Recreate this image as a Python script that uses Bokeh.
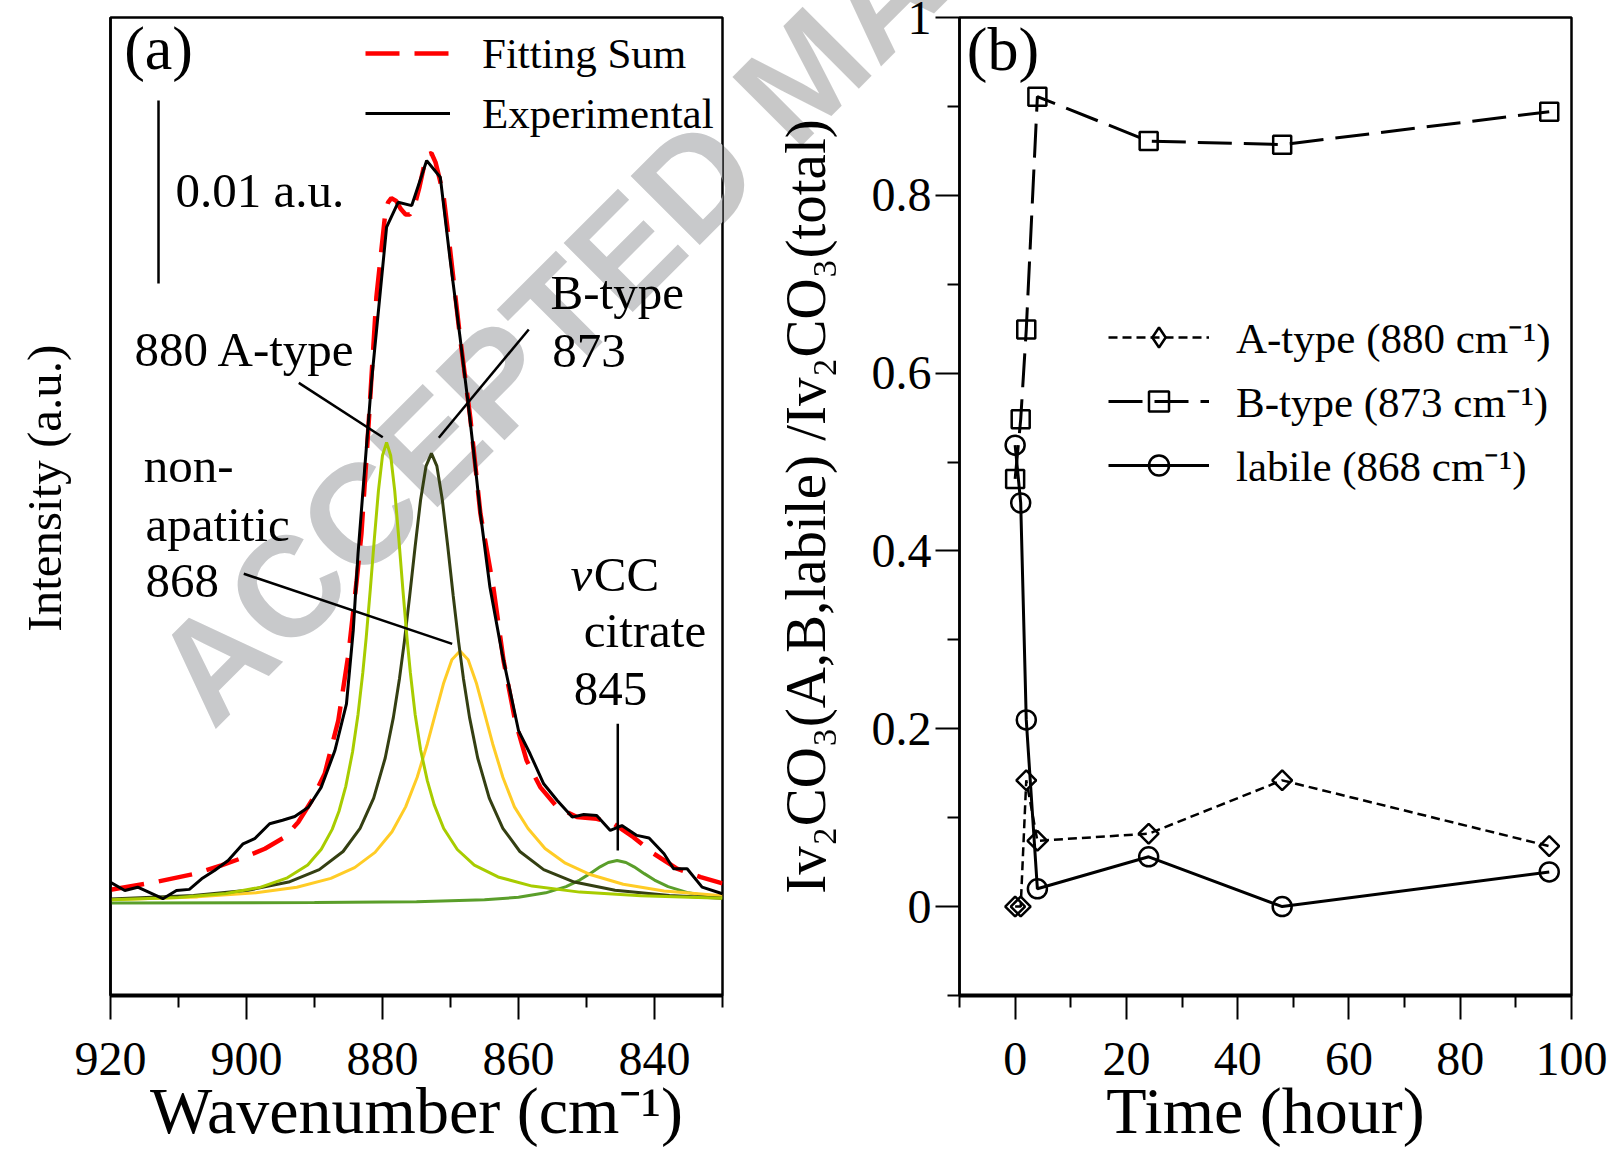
import numpy as np
from bokeh.plotting import figure
from bokeh.models import (Range1d, FixedTicker, Legend, LegendItem, Label, Div,
                          CustomJSTickFormatter)
from bokeh.layouts import row
from bokeh.embed import file_html
from bokeh.resources import INLINE
from bokeh.core.properties import value

FONT = "Liberation Serif"
SANS = "Liberation Sans"

# ---------------- Panel (a) data (intensity in 1e-3 a.u.) ----------------
exp_wn = [920.0, 917.9, 916.0, 912.3, 910.3, 908.4, 906.6, 904.7, 902.7, 900.5,
          898.8, 896.6, 894.7, 892.9, 890.9, 889.0, 887.0, 885.3, 884.3, 883.6,
          881.6, 879.4, 877.7, 875.7, 873.5, 871.5, 870.1, 868.6, 867.4, 866.4,
          865.6, 864.2, 862.4, 860.0, 858.3, 856.3, 854.3, 852.1, 850.4, 848.5,
          846.5, 844.8, 842.6, 840.8, 838.6, 837.2, 835.2, 833.0, 830.0]
exp_int = [1.16, 0.71, 0.89, 0.26, 0.71, 0.77, 1.35, 1.80, 2.35, 3.26,
           3.54, 4.36, 4.55, 4.75, 5.26, 6.36, 8.36, 10.91, 14.92, 19.11,
           28.58, 36.96, 38.32, 38.14, 40.60, 39.69, 35.32, 30.95, 27.31, 24.03,
           21.30, 17.28, 13.64, 9.45, 8.18, 6.54, 5.63, 4.72, 4.86, 4.81,
           3.99, 4.26, 3.72, 3.58, 2.72, 1.90, 1.90, 0.89, 0.53]

fit_wn = [920.0, 913.5, 907.6, 903.7, 900.3, 897.3, 894.4, 892.4, 890.4, 888.5,
          886.5, 885.0, 883.8, 883.1, 882.1, 880.9, 879.6, 879.2, 878.7, 878.0,
          877.3, 876.6, 876.0, 875.3, 874.6, 873.9, 873.3, 872.8, 872.2, 871.6,
          871.0, 870.1, 868.6, 867.1, 865.6, 863.7, 862.2, 860.5, 858.8, 856.8,
          854.3, 851.4, 848.5, 846.0, 843.1, 840.1, 836.7, 833.2, 830.0]
fit_int = [0.75, 1.16, 1.62, 2.08, 2.53, 2.99, 3.62, 4.44, 5.63, 7.09,
           10.0, 13.64, 17.65, 20.20, 25.85, 33.13, 37.69, 38.3, 38.55, 38.4,
           37.95, 37.65, 37.65, 38.1, 39.1, 40.3, 40.95, 41.0, 40.5, 39.6,
           38.6, 35.86, 30.95, 26.57, 21.30, 17.28, 13.28, 10.0, 7.81, 6.36,
           5.26, 4.72, 4.63, 4.36, 3.62, 2.72, 1.90, 1.44, 1.10]

a880_wn = [920.0, 910.0, 903.0, 898.0, 894.0, 891.0, 889.0, 887.4, 886.4, 885.4,
           884.4, 883.6, 882.9, 882.4, 881.8, 881.2, 880.6, 880.0, 879.4, 878.8,
           878.2, 877.6, 877.0, 876.4, 875.9, 875.2, 874.4, 873.4, 872.4, 871.0,
           869.0, 866.5, 863.0, 858.0, 851.0, 842.0, 830.0]
a880_int = [0.20, 0.33, 0.55, 0.88, 1.40, 2.10, 2.96, 4.05, 5.04, 6.40,
            8.29, 10.33, 12.6, 14.52, 17.14, 19.93, 22.55, 24.48, 25.2, 24.48,
            22.55, 19.93, 17.14, 14.52, 12.6, 10.33, 8.4, 6.7, 5.4, 4.1,
            2.95, 2.1, 1.45, 0.95, 0.62, 0.42, 0.28]

b873_wn = [920.0, 907.8, 899.8, 893.8, 889.3, 885.8, 883.3, 881.3, 879.6, 878.4,
           877.5, 876.8, 876.0, 875.2, 874.4, 873.6, 872.8, 872.0, 871.2, 870.4,
           869.6, 868.8, 868.1, 867.2, 866.0, 864.3, 862.3, 859.8, 856.3, 851.8,
           845.8, 837.8, 830.0]
b873_int = [0.24, 0.435, 0.72, 1.17, 1.85, 2.84, 4.11, 5.76, 7.95, 10.17,
            12.3, 14.27, 16.81, 19.51, 22.05, 23.9, 24.6, 23.9, 22.05, 19.51,
            16.81, 14.27, 12.3, 10.17, 7.95, 5.76, 4.11, 2.84, 1.85, 1.17,
            0.72, 0.435, 0.29]

n868_wn = [920.0, 907.2, 898.6, 892.6, 887.6, 884.1, 881.1, 878.6, 876.6, 874.9,
           873.4, 872.2, 871.0, 869.8, 868.6, 867.4, 866.2, 865.0, 863.8, 862.3,
           860.6, 858.6, 856.1, 853.1, 849.6, 844.6, 838.6, 830.0]
n868_int = [0.20, 0.36, 0.58, 0.89, 1.37, 1.96, 2.79, 3.92, 5.28, 6.9,
            8.73, 10.40, 12.05, 13.32, 13.8, 13.32, 12.05, 10.40, 8.73, 6.9,
            5.28, 4.1, 3.0, 2.2, 1.6, 1.05, 0.68, 0.42]

c845_wn = [920.0, 890.0, 875.0, 865.0, 860.0, 856.0, 853.0, 851.0, 849.5, 848.0,
           846.8, 845.5, 844.2, 843.0, 841.5, 840.0, 838.0, 835.0, 832.0, 830.0]
c845_int = [0.02, 0.05, 0.10, 0.20, 0.34, 0.58, 0.92, 1.28, 1.63, 2.00,
            2.24, 2.35, 2.24, 2.00, 1.63, 1.28, 0.92, 0.58, 0.38, 0.31]

scale_bar_mau = 10.0   # 0.01 a.u.

wn_ticks = [920, 900, 880, 860, 840]
wn_minor = [910, 890, 870, 850, 830]

# ---------------- Panel (b) data ----------------
time_h = [0, 1, 2, 4, 24, 48, 96]
a_type = [0.0, 0.0, 0.142, 0.074, 0.082, 0.142, 0.068]
b_type = [0.481, 0.548, 0.649, 0.911, 0.861, 0.857, 0.894]
labile = [0.519, 0.454, 0.210, 0.020, 0.056, 0.0, 0.039]

t_ticks = [0, 20, 40, 60, 80, 100]
t_minor = [-10, 10, 30, 50, 70, 90]
r_ticks = [0, 0.2, 0.4, 0.6, 0.8, 1.0]
r_minor = [-0.1, 0.1, 0.3, 0.5, 0.7, 0.9]

# ---------------- annotation placement (panel a, data coords) ----------------
ann_a_text = ["880 A-type", "B-type", "873", "non-", "apatitic", "868",
              "CC", "citrate", "845", "0.01 a.u."]
ann_a_x = [916.47, 855.29, 855.04, 915.10, 914.85, 914.85, 848.93, 850.40, 851.87, 910.44]
ann_a_y = [30.30, 33.39, 30.21, 23.92, 20.73, 17.64, 18.00, 14.91, 11.72, 38.97]
lead_x0 = [892.31, 858.49, 900.40, 845.40]
lead_y0 = [28.45, 31.37, 18.02, 9.82]
lead_x1 = [879.96, 871.72, 869.75, 845.40]
lead_y1 = [25.48, 25.45, 14.19, 2.90]
scale_x, scale_y0 = 912.94, 33.88

COL_A = "#a8cc00"
COL_B = "#343f12"
COL_N = "#ffcc26"
COL_C = "#5a9e2a"

H = 1152
TOP = 17
FRAME_H = 978
BOTTOM = H - TOP - FRAME_H


def style_common(p):
    p.grid.visible = False
    p.outline_line_color = "black"
    p.outline_line_width = 2.5
    p.background_fill_color = "white"
    p.border_fill_color = "white"


def style_xaxis(ax, label):
    ax.axis_line_width = 4
    ax.major_tick_out = 24
    ax.major_tick_in = 0
    ax.minor_tick_out = 12
    ax.minor_tick_in = 0
    ax.major_tick_line_width = 2
    ax.minor_tick_line_width = 2
    ax.major_label_text_font = FONT
    ax.major_label_text_font_size = "48px"
    ax.major_label_text_color = "black"
    ax.major_label_standoff = 23
    ax.axis_label = label
    ax.axis_label_text_font = FONT
    ax.axis_label_text_font_size = "66px"
    ax.axis_label_text_font_style = "normal"
    ax.axis_label_text_color = "black"
    ax.axis_label_standoff = -4


# ================= Panel (a) =================
pa = figure(width=745, height=H, x_range=Range1d(920, 830), y_range=Range1d(-5.03, 48.42),
            output_backend="svg", toolbar_location=None,
            min_border_left=110, min_border_right=23, min_border_top=TOP, min_border_bottom=BOTTOM)
style_common(pa)
xa = pa.xaxis[0]
xa.ticker = FixedTicker(ticks=wn_ticks, minor_ticks=wn_minor)
style_xaxis(xa, "Wavenumber (cm\u207b\u00b9)")
ya = pa.yaxis[0]
ya.ticker = FixedTicker(ticks=[], minor_ticks=[])
ya.axis_line_width = 2.5
ya.axis_label = "\u00a0" * 3 + "Intensity (a.u.)"
ya.axis_label_text_font = FONT
ya.axis_label_text_font_size = "49px"
ya.axis_label_text_font_style = "normal"
ya.axis_label_text_color = "black"
ya.axis_label_standoff = 39

# watermark part inside panel (a) frame, beneath the curves
pa.add_layout(Label(x=67.8, y=298.9, x_units="screen", y_units="screen",
                    text="ACCEPTED MANUSCRIPT", text_font=SANS, text_font_style="bold",
                    text_font_size="142px", angle=np.pi / 4, text_color="#c8c9cb",
                    text_align="left", text_baseline="alphabetic", level="underlay"))

pa.line(c845_wn, c845_int, line_color=COL_C, line_width=3)
pa.line(n868_wn, n868_int, line_color=COL_N, line_width=3)
pa.line(b873_wn, b873_int, line_color=COL_B, line_width=3)
pa.line(a880_wn, a880_int, line_color=COL_A, line_width=3)
r_fit = pa.line(fit_wn, fit_int, line_color="red", line_width=4.5, line_dash="34 15")
r_exp = pa.line(exp_wn, exp_int, line_color="black", line_width=3)

pa.segment(x0=lead_x0, y0=lead_y0, x1=lead_x1, y1=lead_y1, line_color="black", line_width=2.5)
pa.segment(x0=[scale_x], y0=[scale_y0], x1=[scale_x], y1=[scale_y0 + scale_bar_mau],
           line_color="black", line_width=2.5)
pa.text(x=ann_a_x, y=ann_a_y, text=ann_a_text, text_font=value(FONT), text_font_size="49px",
        text_align="left", text_baseline="alphabetic", text_color="black")
pa.text(x=[852.35], y=[18.00], text=["\u03bd"], text_font=value(FONT), text_font_size="49px",
        text_font_style="italic", text_align="left", text_baseline="alphabetic", text_color="black")
pa.text(x=[917.99], y=[46.78], text=["(a)"], text_font=value(FONT), text_font_size="62px",
        text_align="left", text_baseline="alphabetic", text_color="black")

leg_a = Legend(items=[LegendItem(label="Fitting Sum", renderers=[r_fit]),
                      LegendItem(label="Experimental", renderers=[r_exp])],
               location=(255, 852), orientation="vertical",
               label_text_font=FONT, label_text_font_size="43px", label_text_color="black",
               glyph_width=85, glyph_height=60, label_height=60, spacing=0, padding=0, margin=0,
               label_standoff=32, border_line_alpha=0, background_fill_alpha=0)
pa.add_layout(leg_a)

# ================= Panel (b) =================
pb = figure(width=868, height=H, x_range=Range1d(-10, 100), y_range=Range1d(-0.1, 1.0),
            output_backend="svg", toolbar_location=None,
            min_border_left=214, min_border_right=42, min_border_top=TOP, min_border_bottom=BOTTOM)
style_common(pb)
xb = pb.xaxis[0]
xb.ticker = FixedTicker(ticks=t_ticks, minor_ticks=t_minor)
style_xaxis(xb, "Time (hour)")
yb = pb.yaxis[0]
yb.ticker = FixedTicker(ticks=r_ticks, minor_ticks=r_minor)
yb.formatter = CustomJSTickFormatter(code="return String(Number(tick.toFixed(2)));")
yb.axis_line_width = 2.5
yb.major_tick_out = 24
yb.major_tick_in = 0
yb.minor_tick_out = 12
yb.minor_tick_in = 0
yb.major_tick_line_width = 2
yb.minor_tick_line_width = 2
yb.major_label_text_font = FONT
yb.major_label_text_font_size = "48px"
yb.major_label_text_color = "black"
yb.major_label_standoff = 4
yb.axis_label = "Iv\u2082CO\u2083(A,B,labile) /Iv\u2082CO\u2083(total)"
yb.axis_label_text_font = FONT
yb.axis_label_text_font_size = "57px"
yb.axis_label_text_font_style = "normal"
yb.axis_label_text_color = "black"
yb.axis_label_standoff = 32

la = pb.line(time_h, a_type, line_color="black", line_width=2.5, line_dash="9 5")
lb = pb.line(time_h, b_type, line_color="black", line_width=3, line_dash="34 12")
ll = pb.line(time_h, labile, line_color="black", line_width=3)
sa = pb.scatter(time_h, a_type, marker="square", angle=np.pi / 4, size=14,
                fill_color=None, line_color="black", line_width=2.5)
sa_key = pb.scatter(time_h, a_type, marker="diamond", size=20, visible=False,
                    fill_color=None, line_color="black", line_width=2.5)
sb = pb.scatter(time_h, b_type, marker="square", size=18,
                fill_color=None, line_color="black", line_width=2.5)
sl = pb.scatter(time_h, labile, marker="circle", size=19,
                fill_color=None, line_color="black", line_width=2.5)
pb.text(x=[-8.69], y=[0.9646], text=["(b)"], text_font=value(FONT), text_font_size="62px",
        text_align="left", text_baseline="alphabetic", text_color="black")

leg_b = Legend(items=[LegendItem(label="A-type (880 cm\u207b\u00b9)", renderers=[la, sa_key]),
                      LegendItem(label="B-type (873 cm\u207b\u00b9)", renderers=[lb, sb]),
                      LegendItem(label="labile (868 cm\u207b\u00b9)", renderers=[ll, sl])],
               location=(149, 501), orientation="vertical",
               label_text_font=FONT, label_text_font_size="43px", label_text_color="black",
               glyph_width=101, glyph_height=50, label_height=50, spacing=5, padding=0, margin=0,
               label_standoff=27, border_line_alpha=0, background_fill_alpha=0,
               inactive_fill_alpha=0)
pb.add_layout(leg_b)

# watermark part outside panel (a) frame (overlay, semi-transparent so black stays black)
wm_svg = (
    '<svg xmlns="http://www.w3.org/2000/svg" width="1617" height="1156" '
    'style="position:fixed;left:0;top:0;pointer-events:none;z-index:10">'
    '<defs><clipPath id="wmclip"><path clip-rule="evenodd" '
    'd="M0 0H1617V1156H0Z M110 17H722V995H110Z"/></clipPath></defs>'
    '<g clip-path="url(#wmclip)">'
    '<text x="214.6" y="732.9" transform="rotate(-45 214.6 732.9)" '
    'font-family="Liberation Sans" font-weight="bold" font-size="142px" '
    'fill="#000000" fill-opacity="0.215">ACCEPTED MANUSCRIPT</text></g></svg>'
)
wm_div = Div(text=wm_svg, width=0, height=0, margin=0)

layout = row(pa, pb, wm_div)
open("out.html", "w").write(file_html(layout, INLINE))
